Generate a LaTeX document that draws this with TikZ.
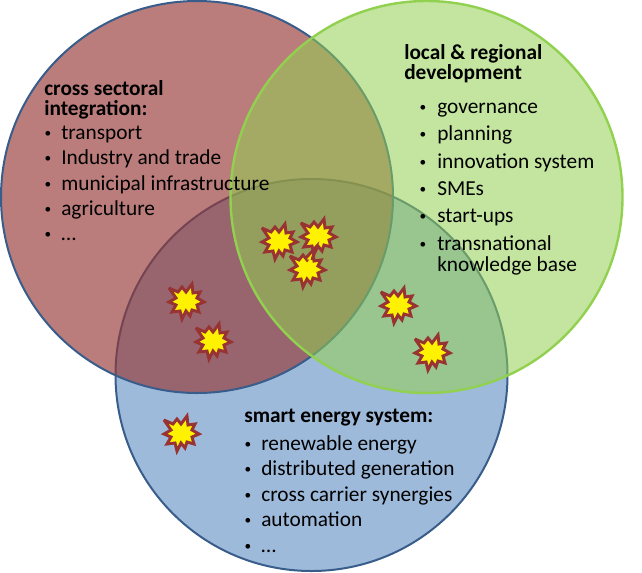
\documentclass[tikz,border=0pt]{standalone}
\usepackage{fontspec}
\setmainfont{Carlito}
\usepackage{tikz}
\usetikzlibrary{positioning}
\definecolor{redfill}{HTML}{953735}
\definecolor{greenfill}{HTML}{92D050}
\definecolor{bluefill}{HTML}{4F81BD}
\definecolor{blueline}{HTML}{385D8A}
\definecolor{burstline}{HTML}{983333}
\tikzset{font=\fontsize{16}{15.5}\selectfont}
\tikzset{circlebase/.style={circle,minimum size=294pt,inner sep=0pt}}
\tikzset{heading/.style={anchor=north west,inner sep=0pt,align=left,font=\fontsize{16}{15.5}\selectfont\bfseries}}
\tikzset{entry/.style={anchor=base west,inner sep=0pt,align=left}}
\tikzset{dot/.style={anchor=base,inner sep=0pt,font=\fontsize{10}{10}\selectfont}}
\tikzset{burst/.pic={
  \draw[burstline,line width=2.2pt,line join=miter,miter limit=3,fill=yellow]
    (-17,-13) -- (-8,-9) -- (-4,-14) -- (0,-9) -- (6,-17) -- (7,-8) -- (14,-9) -- (11,-3)
    -- (18,1) -- (11,4) -- (13,11) -- (6,9) -- (4,15) -- (0,10) -- (-4,18) -- (-6,10) -- (-14,11)
    -- (-10,4) -- (-17,1) -- (-10,-3) -- cycle;
}}

\begin{document}
\begin{tikzpicture}[x=.75pt,y=-.75pt]
  \useasboundingbox (0,0) rectangle (642,572);
  \node[circlebase,fill=bluefill,fill opacity=.55,draw=blueline,line width=1.5pt] (blueset) at (311.5,375) {};
  \node[circlebase,fill=redfill,fill opacity=.65,draw=blueline,line width=1.5pt] (redset) at (197,197) {};
  \node[circlebase,fill=greenfill,fill opacity=.55,draw=greenfill,line width=1.8pt] (greenset) at (426.5,197) {};

  \node[heading] (crosshead) at (44,80) {cross sectoral\\integration:};
  \foreach \y/\t/\n in {139/transport/a,164/Industry and trade/b,190/municipal infrastructure/c,215/agriculture/d,240/\dots/e}{
    \node[dot] (crossdot\n) at (48,\y-2) {\textbullet};
    \node[entry] (cross\n) at (61,\y) {\t};
  }

  \node[heading] (localhead) at (404,44) {local \& regional\\development};
  \foreach \y/\t/\n in {113/governance/a,140/planning/b,168/innovation system/c,195/SMEs/d,222/start-ups/e,250/transnational/f}{
    \node[dot] (localdot\n) at (423,\y-2) {\textbullet};
    \node[entry] (local\n) at (437,\y) {\t};
  }
  \node[entry] (localg) at (437,271) {knowledge base};

  \node[heading] (smarthead) at (244,409) {smart energy system:};
  \foreach \y/\t/\n in {450/renewable energy/a,475/distributed generation/b,501/cross carrier synergies/c,526/automation/d,552/\dots/e}{
    \node[dot] (smartdot\n) at (248,\y-2) {\textbullet};
    \node[entry] (smart\n) at (261,\y) {\t};
  }

  \foreach \x/\y in {279/241,318/236,307/269,186/301,213/341,398/305,432/352,181/433}
    \pic at (\x,\y) {burst};
  % spike joining the two upper bursts
  \coordinate (spikestart) at (305,259);
  \coordinate (spiketip) at (316,247);
  \coordinate (spikeend) at (312,260);
  \draw[burstline,line width=2.2pt,fill=yellow] (spikestart) -- (spiketip) -- (spikeend);
\end{tikzpicture}
\end{document}
